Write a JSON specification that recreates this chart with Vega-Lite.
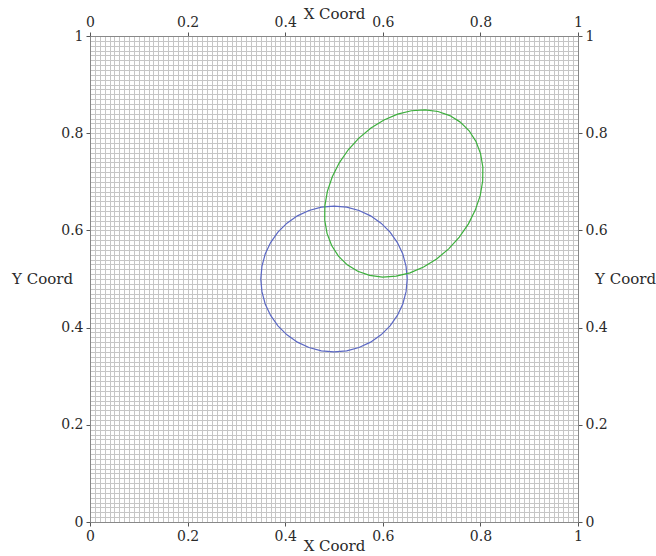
{
  "$schema": "https://vega.github.io/schema/vega-lite/v6.json",
  "width": 488,
  "height": 486,
  "autosize": "none",
  "padding": {"left": 90, "top": 36, "right": 78, "bottom": 34},
  "config": {
    "view": {"stroke": "#888888", "strokeWidth": 1},
    "font": "DejaVu Serif",
    "axis": {"labelFont": "DejaVu Serif", "titleFont": "DejaVu Serif", "labelFontSize": 14, "titleFontSize": 15, "titleFontWeight": "normal", "labelColor": "#2a2a2a", "titleColor": "#2a2a2a", "domainColor": "#888888", "tickColor": "#555555", "labelFlush": false, "labelOverlap": false, "format": "~g"}
  },
  "data": {"values": [
    {"s":"circle","i":0,"x":0.65,"y":0.5},
    {"s":"circle","i":1,"x":0.6477,"y":0.526},
    {"s":"circle","i":2,"x":0.641,"y":0.5513},
    {"s":"circle","i":3,"x":0.6299,"y":0.575},
    {"s":"circle","i":4,"x":0.6149,"y":0.5964},
    {"s":"circle","i":5,"x":0.5964,"y":0.6149},
    {"s":"circle","i":6,"x":0.575,"y":0.6299},
    {"s":"circle","i":7,"x":0.5513,"y":0.641},
    {"s":"circle","i":8,"x":0.526,"y":0.6477},
    {"s":"circle","i":9,"x":0.5,"y":0.65},
    {"s":"circle","i":10,"x":0.474,"y":0.6477},
    {"s":"circle","i":11,"x":0.4487,"y":0.641},
    {"s":"circle","i":12,"x":0.425,"y":0.6299},
    {"s":"circle","i":13,"x":0.4036,"y":0.6149},
    {"s":"circle","i":14,"x":0.3851,"y":0.5964},
    {"s":"circle","i":15,"x":0.3701,"y":0.575},
    {"s":"circle","i":16,"x":0.359,"y":0.5513},
    {"s":"circle","i":17,"x":0.3523,"y":0.526},
    {"s":"circle","i":18,"x":0.35,"y":0.5},
    {"s":"circle","i":19,"x":0.3523,"y":0.474},
    {"s":"circle","i":20,"x":0.359,"y":0.4487},
    {"s":"circle","i":21,"x":0.3701,"y":0.425},
    {"s":"circle","i":22,"x":0.3851,"y":0.4036},
    {"s":"circle","i":23,"x":0.4036,"y":0.3851},
    {"s":"circle","i":24,"x":0.425,"y":0.3701},
    {"s":"circle","i":25,"x":0.4487,"y":0.359},
    {"s":"circle","i":26,"x":0.474,"y":0.3523},
    {"s":"circle","i":27,"x":0.5,"y":0.35},
    {"s":"circle","i":28,"x":0.526,"y":0.3523},
    {"s":"circle","i":29,"x":0.5513,"y":0.359},
    {"s":"circle","i":30,"x":0.575,"y":0.3701},
    {"s":"circle","i":31,"x":0.5964,"y":0.3851},
    {"s":"circle","i":32,"x":0.6149,"y":0.4036},
    {"s":"circle","i":33,"x":0.6299,"y":0.425},
    {"s":"circle","i":34,"x":0.641,"y":0.4487},
    {"s":"circle","i":35,"x":0.6477,"y":0.474},
    {"s":"circle","i":36,"x":0.65,"y":0.5},
    {"s":"ellipse","i":0,"x":0.7589,"y":0.8228},
    {"s":"ellipse","i":1,"x":0.7373,"y":0.8362},
    {"s":"ellipse","i":2,"x":0.713,"y":0.8446},
    {"s":"ellipse","i":3,"x":0.6865,"y":0.8481},
    {"s":"ellipse","i":4,"x":0.6586,"y":0.8462},
    {"s":"ellipse","i":5,"x":0.6303,"y":0.8393},
    {"s":"ellipse","i":6,"x":0.6024,"y":0.8273},
    {"s":"ellipse","i":7,"x":0.5757,"y":0.8107},
    {"s":"ellipse","i":8,"x":0.551,"y":0.79},
    {"s":"ellipse","i":9,"x":0.5292,"y":0.7659},
    {"s":"ellipse","i":10,"x":0.5108,"y":0.739},
    {"s":"ellipse","i":11,"x":0.4965,"y":0.7103},
    {"s":"ellipse","i":12,"x":0.4864,"y":0.6805},
    {"s":"ellipse","i":13,"x":0.4813,"y":0.6505},
    {"s":"ellipse","i":14,"x":0.481,"y":0.6214},
    {"s":"ellipse","i":15,"x":0.4857,"y":0.5939},
    {"s":"ellipse","i":16,"x":0.4952,"y":0.5688},
    {"s":"ellipse","i":17,"x":0.5091,"y":0.547},
    {"s":"ellipse","i":18,"x":0.5271,"y":0.5292},
    {"s":"ellipse","i":19,"x":0.5487,"y":0.5158},
    {"s":"ellipse","i":20,"x":0.573,"y":0.5074},
    {"s":"ellipse","i":21,"x":0.5995,"y":0.5039},
    {"s":"ellipse","i":22,"x":0.6274,"y":0.5058},
    {"s":"ellipse","i":23,"x":0.6557,"y":0.5127},
    {"s":"ellipse","i":24,"x":0.6836,"y":0.5247},
    {"s":"ellipse","i":25,"x":0.7103,"y":0.5413},
    {"s":"ellipse","i":26,"x":0.735,"y":0.562},
    {"s":"ellipse","i":27,"x":0.7568,"y":0.5861},
    {"s":"ellipse","i":28,"x":0.7752,"y":0.613},
    {"s":"ellipse","i":29,"x":0.7895,"y":0.6417},
    {"s":"ellipse","i":30,"x":0.7996,"y":0.6715},
    {"s":"ellipse","i":31,"x":0.8047,"y":0.7015},
    {"s":"ellipse","i":32,"x":0.805,"y":0.7306},
    {"s":"ellipse","i":33,"x":0.8003,"y":0.7581},
    {"s":"ellipse","i":34,"x":0.7908,"y":0.7832},
    {"s":"ellipse","i":35,"x":0.7769,"y":0.805},
    {"s":"ellipse","i":36,"x":0.7589,"y":0.8228}
  ]},
  "resolve": {"axis": {"x": "independent", "y": "independent"}},
  "layer": [
    {
      "mark": {"type": "line", "strokeOpacity": 0},
      "encoding": {
        "x": {"field": "x", "type": "quantitative", "scale": {"domain": [0, 1], "nice": false}, "axis": {"orient": "bottom", "grid": true, "tickCount": 100, "gridColor": "#c6c6c6", "gridWidth": 1, "gridOpacity": 1, "labels": false, "ticks": false, "domain": false, "title": null, "zindex": 0}},
        "y": {"field": "y", "type": "quantitative", "scale": {"domain": [0, 1], "nice": false}, "axis": {"orient": "left", "grid": true, "tickCount": 100, "gridColor": "#c6c6c6", "gridWidth": 1, "gridOpacity": 1, "labels": false, "ticks": false, "domain": false, "title": null, "zindex": 0}},
        "detail": {"field": "s"},
        "order": {"field": "i", "type": "quantitative"}
      }
    },
    {
      "mark": {"type": "line", "strokeOpacity": 0},
      "encoding": {
        "x": {"field": "x", "type": "quantitative", "axis": {"orient": "bottom", "grid": false, "values": [0, 0.2, 0.4, 0.6, 0.8, 1], "tickSize": 4, "labelPadding": 3, "title": "X Coord", "titleY": 23, "titleBaseline": "middle", "zindex": 1}},
        "y": {"field": "y", "type": "quantitative", "axis": {"orient": "left", "grid": false, "values": [0, 0.2, 0.4, 0.6, 0.8, 1], "tickSize": 4, "labelPadding": 3, "title": "Y Coord", "titleAngle": 0, "titleX": -48, "titleY": 242, "titleAlign": "center", "titleBaseline": "middle", "zindex": 1}},
        "detail": {"field": "s"},
        "order": {"field": "i", "type": "quantitative"}
      }
    },
    {
      "mark": {"type": "line", "strokeWidth": 1.2},
      "encoding": {
        "x": {"field": "x", "type": "quantitative", "axis": {"orient": "top", "grid": false, "values": [0, 0.2, 0.4, 0.6, 0.8, 1], "tickSize": 4, "labelPadding": 3, "title": "X Coord", "titleY": -23, "titleBaseline": "middle", "zindex": 1}},
        "y": {"field": "y", "type": "quantitative", "axis": {"orient": "right", "grid": false, "values": [0, 0.2, 0.4, 0.6, 0.8, 1], "tickSize": 4, "labelPadding": 3, "title": "Y Coord", "titleAngle": 0, "titleX": 47, "titleY": 242, "titleAlign": "center", "titleBaseline": "middle", "zindex": 1}},
        "color": {"field": "s", "type": "nominal", "scale": {"domain": ["circle", "ellipse"], "range": ["#5b68c4", "#3cb03c"]}, "legend": null},
        "order": {"field": "i", "type": "quantitative"}
      }
    }
  ]
}
